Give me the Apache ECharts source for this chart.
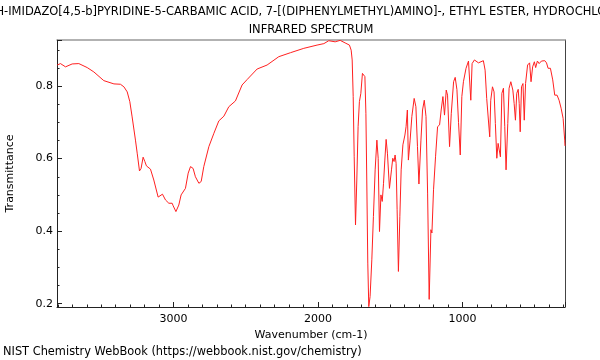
<!DOCTYPE html>
<html>
<head>
<meta charset="utf-8">
<script src="https://cdn.jsdelivr.net/npm/echarts@6/dist/echarts.min.js"></script>
<style>
html,body{margin:0;padding:0;background:#fff;}
#chart{width:600px;height:360px;}
</style>
</head>
<body>
<div id="chart"></div>
<script>
// Wavenumbers (cm-1) and transmittance
const wavenumbers = [3805,3782,3747,3701,3655,3597,3551,3482,3412,3367,3343,3320,3302,3286,3263,3251,3235,3224,3210,3198,3187,3159,3136,3106,3076,3055,3032,3009,3002,2983,2963,2947,2917,2898,2882,2864,2848,2824,2808,2790,2755,2720,2686,2651,2617,2571,2525,2490,2421,2352,2271,2190,2098,2006,1959,1925,1881,1846,1812,1782,1770,1763,1756,1749,1740,1731,1722,1713,1703,1692,1682,1675,1668,1662,1655,1648,1639,1627,1616,1604,1592,1583,1574,1564,1555,1546,1537,1528,1519,1505,1491,1482,1473,1466,1459,1452,1443,1433,1424,1412,1398,1390,1381,1374,1362,1350,1334,1322,1311,1301,1287,1276,1264,1252,1241,1230,1218,1211,1200,1186,1172,1158,1147,1135,1124,1112,1103,1089,1077,1061,1050,1038,1027,1015,1004,993,975,958,952,942,933,917,889,855,843,832,822,811,804,792,781,772,762,753,744,737,727,716,707,698,686,677,665,651,642,633,624,614,607,600,591,581,572,563,549,535,525,514,502,493,481,469,453,430,418,407,391,375,361,345,331,317,303,292,290];
const transmittance = [0.858,0.862,0.853,0.861,0.862,0.851,0.839,0.815,0.806,0.805,0.798,0.784,0.757,0.715,0.651,0.615,0.566,0.573,0.604,0.592,0.580,0.571,0.541,0.494,0.502,0.486,0.477,0.477,0.470,0.454,0.472,0.500,0.518,0.560,0.578,0.573,0.550,0.532,0.537,0.578,0.633,0.670,0.704,0.717,0.743,0.759,0.803,0.818,0.847,0.858,0.881,0.892,0.904,0.913,0.917,0.925,0.922,0.926,0.919,0.913,0.899,0.872,0.771,0.605,0.417,0.541,0.688,0.757,0.780,0.835,0.839,0.826,0.725,0.541,0.312,0.192,0.220,0.321,0.440,0.569,0.651,0.601,0.399,0.500,0.482,0.532,0.596,0.653,0.615,0.518,0.569,0.601,0.592,0.610,0.587,0.459,0.289,0.440,0.569,0.638,0.665,0.688,0.734,0.596,0.651,0.716,0.766,0.743,0.633,0.530,0.651,0.734,0.761,0.716,0.505,0.212,0.404,0.395,0.514,0.605,0.688,0.693,0.734,0.771,0.720,0.789,0.775,0.633,0.725,0.812,0.824,0.790,0.700,0.610,0.771,0.812,0.849,0.869,0.867,0.761,0.862,0.872,0.864,0.870,0.844,0.766,0.768,0.660,0.761,0.798,0.784,0.697,0.601,0.642,0.642,0.605,0.780,0.794,0.688,0.569,0.697,0.794,0.812,0.789,0.752,0.706,0.780,0.791,0.752,0.674,0.798,0.807,0.706,0.807,0.858,0.864,0.812,0.853,0.867,0.851,0.869,0.862,0.869,0.870,0.864,0.849,0.849,0.817,0.775,0.775,0.761,0.739,0.711,0.651,0.635];

const titleLine1 = '1H-IMIDAZO[4,5-b]PYRIDINE-5-CARBAMIC ACID, 7-[(DIPHENYLMETHYL)AMINO]-, ETHYL ESTER, HYDROCHLORIDE';
const titleLine2 = 'INFRARED SPECTRUM';
const xAxisName = 'Wavenumber (cm-1)';
const yAxisName = 'Transmittance';
const footerText = 'NIST Chemistry WebBook (https://webbook.nist.gov/chemistry)';
const xRange = [290, 3806];
const yRange = [0.191, 0.927];

const FONT = 'DejaVu Sans';
const chart = echarts.init(document.getElementById('chart'), null, {renderer: 'canvas'});
const seriesData = wavenumbers.map((w, i) => [w, transmittance[i]]);

chart.setOption({
  animation: false,
  backgroundColor: '#ffffff',
  textStyle: {fontFamily: FONT},
  grid: {left: 57, right: 35, top: 40, bottom: 53, containLabel: false, outerBoundsMode: 'none'},
  graphic: [
    {type: 'text', x: 311, y: 12, style: {text: titleLine1, fill: '#000', font: '11.5px "DejaVu Sans"', textAlign: 'center', textVerticalAlign: 'middle'}},
    {type: 'text', x: 311, y: 30, style: {text: titleLine2, fill: '#000', font: '11.5px "DejaVu Sans"', textAlign: 'center', textVerticalAlign: 'middle'}},
    {type: 'text', x: 3, y: 352, style: {text: footerText, fill: '#000', font: '11.4px "DejaVu Sans"', textAlign: 'left', textVerticalAlign: 'middle'}}
  ],
  xAxis: [{
    type: 'value', inverse: true, min: xRange[0], max: xRange[1],
    minInterval: 1000, maxInterval: 1000,
    position: 'bottom',
    name: xAxisName, nameLocation: 'middle', nameGap: 21,
    nameTextStyle: {color: '#000', fontSize: 11, fontFamily: FONT},
    axisLine: {show: true, lineStyle: {color: '#222', width: 1}},
    axisTick: {show: true, inside: true, length: 5, lineStyle: {color: '#222'}},
    minorTick: {show: true, splitNumber: 10, length: 2.5, lineStyle: {color: '#222'}},
    axisLabel: {color: '#000', fontSize: 11, fontFamily: FONT, margin: 7, showMinLabel: false, showMaxLabel: false,
      formatter: function (v) { return String(Math.round(v)); }},
    splitLine: {show: false}
  }, {
    type: 'value', inverse: true, min: xRange[0], max: xRange[1],
    position: 'top',
    axisLine: {show: true, lineStyle: {color: '#999', width: 1.5}},
    axisTick: {show: false}, axisLabel: {show: false}, splitLine: {show: false}
  }],
  yAxis: [{
    type: 'value', min: yRange[0], max: yRange[1],
    minInterval: 0.2, maxInterval: 0.2,
    position: 'left',
    name: yAxisName, nameLocation: 'middle', nameGap: 41,
    nameTextStyle: {color: '#000', fontSize: 11, fontFamily: FONT},
    axisLine: {show: true, lineStyle: {color: '#222', width: 1}},
    axisTick: {show: true, inside: true, length: 5, lineStyle: {color: '#222'}},
    minorTick: {show: true, splitNumber: 4, length: 2.5, lineStyle: {color: '#222'}},
    axisLabel: {color: '#000', fontSize: 11, fontFamily: FONT, margin: 4, showMinLabel: false, showMaxLabel: false},
    splitLine: {show: false}
  }, {
    type: 'value', min: yRange[0], max: yRange[1],
    position: 'right',
    axisLine: {show: true, lineStyle: {color: '#444', width: 1}},
    axisTick: {show: false}, axisLabel: {show: false}, splitLine: {show: false}
  }],
  series: [{
    type: 'line',
    xAxisIndex: 0, yAxisIndex: 0,
    data: seriesData,
    showSymbol: false,
    smooth: false,
    lineStyle: {color: '#ff2020', width: 1},
    silent: true
  }]
});
</script>
</body>
</html>
